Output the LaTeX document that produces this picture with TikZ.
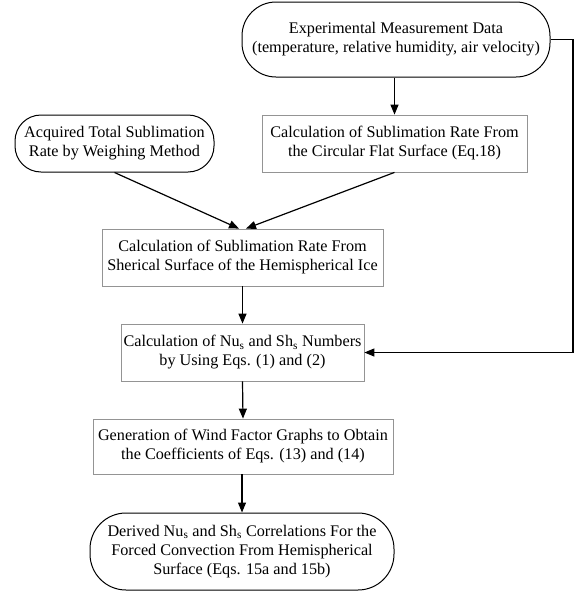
\documentclass[tikz,border=0pt]{standalone}
\usepackage{fontspec}
\setmainfont{Liberation Serif}
\usetikzlibrary{arrows.meta}
\begin{document}
\begin{tikzpicture}[x=1pt,y=-1pt,
  every node/.style={font=\fontsize{16.2}{19}\selectfont, align=center, inner sep=0pt},
  procbox/.style={draw=black!42, line width=0.8pt, rectangle},
  termbox/.style={draw=black, line width=1pt, rectangle},
  arr/.style={draw=black, line width=1.2pt, -{Triangle[length=10pt,width=8pt]}}
]
\useasboundingbox (0,0) rectangle (579,592);
\node[termbox, minimum width=308pt, minimum height=75pt, rounded corners=34pt] (t1) at (396,39.5)
  {Experimental Measurement Data\\(temperature, relative humidity, air velocity)};
\node[procbox, minimum width=265pt, minimum height=57pt] (f1) at (394.5,143.5)
  {Calculation of Sublimation Rate From\\the Circular Flat Surface (Eq.18)};
\node[termbox, minimum width=199pt, minimum height=57pt, rounded corners=26pt] (t2) at (114.5,143.5)
  {Acquired Total Sublimation\\Rate by Weighing Method};
\node[procbox, minimum width=281pt, minimum height=57pt] (b2) at (242.5,257.5)
  {Calculation of Sublimation Rate From\\Sherical Surface of the Hemispherical Ice};
\node[procbox, minimum width=243pt, minimum height=57pt] (b3) at (242.5,352.5)
  {Calculation of Nu\textsubscript{s} and Sh\textsubscript{s} Numbers\\by Using Eqs. (1) and (2)};
\node[procbox, minimum width=300pt, minimum height=55pt] (b4) at (243,446.5)
  {Generation of Wind Factor Graphs to Obtain\\the Coefficients of Eqs. (13) and (14)};
\node[termbox, minimum width=304pt, minimum height=77pt, rounded corners=36pt] (t3) at (242,551.5)
  {Derived Nu\textsubscript{s} and Sh\textsubscript{s} Correlations For the\\Forced Convection From Hemispherical\\Surface (Eqs. 15a and 15b)};
\coordinate (rc) at (573,0);
\draw[arr] (t1.south -| f1.north) -- (f1.north);
\draw[arr] (t2.south) -- ([xshift=-3.5pt]b2.north);
\draw[arr] (f1.south) -- ([xshift=3.5pt]b2.north);
\draw[arr] (b2.south) -- (b3.north);
\draw[arr] (b3.south) -- (b4.north);
\draw[arr] (b4.south -| t3.north) -- (t3.north);
\draw[arr] (t1.east) -- (t1.east -| rc) |- (b3.east);
\end{tikzpicture}
\end{document}
